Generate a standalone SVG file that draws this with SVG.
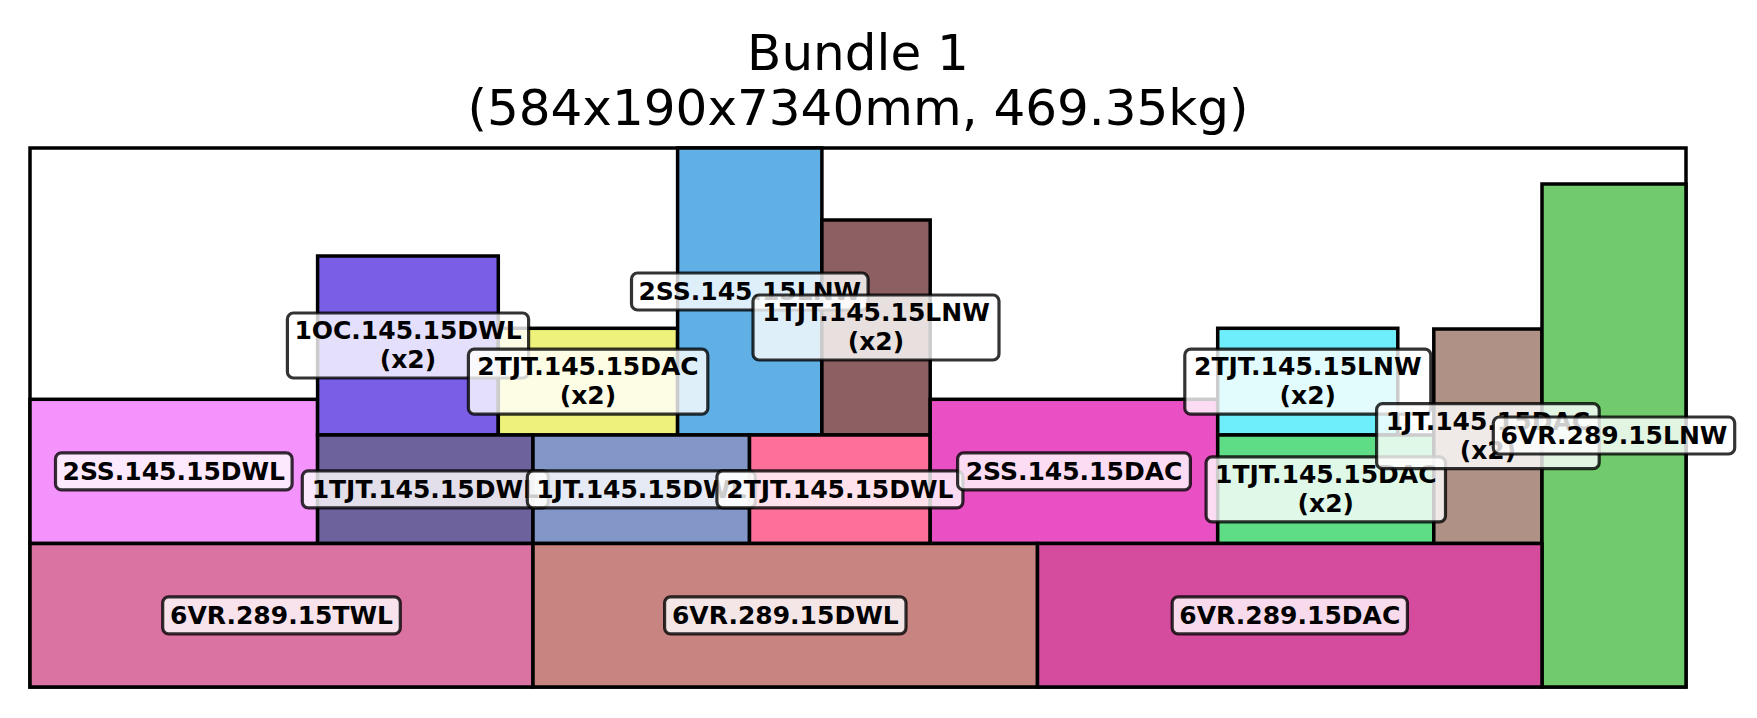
<svg xmlns="http://www.w3.org/2000/svg" width="1757" height="718" viewBox="0 0 1757 718">
<style>
.bg{fill:#ffffff}
.box{stroke:#000;stroke-width:3.5}
.frame{fill:#ffffff;stroke:#000;stroke-width:3.5}
.lb{fill:#ffffff;fill-opacity:0.8;stroke:#000;stroke-opacity:0.8;stroke-width:3.2}
.lt{font-family:"DejaVu Sans","Liberation Sans",sans-serif;font-weight:bold;font-size:25px;fill:#000;text-anchor:middle}
.title{font-family:"DejaVu Sans","Liberation Sans",sans-serif;font-size:50px;fill:#000;text-anchor:middle}
</style>
<rect class="bg" x="0" y="0" width="1757" height="718"/>
<g id="title">
<text class="title" x="858" y="70">Bundle 1</text>
<text class="title" x="858" y="125">(584x190x7340mm, 469.35kg)</text>
</g>
<g id="container"><rect class="frame" x="30" y="148" width="1656" height="539"/></g>
<g id="n-2SS-145-15DWL"><rect class="box" fill="#f393fb" x="30" y="399.3" width="287.6" height="144.2"/></g>
<g id="n-1OC-145-15DWL"><rect class="box" fill="#7a5fe6" x="317.6" y="256" width="180.7" height="179"/></g>
<g id="n-2TJT-145-15DAC"><rect class="box" fill="#eef27a" x="498.3" y="328.3" width="179.3" height="106.7"/></g>
<g id="n-2SS-145-15LNW"><rect class="box" fill="#60b0e6" x="677.6" y="148" width="144.3" height="287"/></g>
<g id="n-1TJT-145-15LNW"><rect class="box" fill="#8c5f62" x="821.9" y="220" width="108.3" height="215"/></g>
<g id="n-1TJT-145-15DWL"><rect class="box" fill="#6e629c" x="317.6" y="435" width="215.4" height="108.5"/></g>
<g id="n-1JT-145-15DWL"><rect class="box" fill="#8396c8" x="533" y="435" width="216.5" height="108.5"/></g>
<g id="n-2TJT-145-15DWL"><rect class="box" fill="#fc709a" x="749.5" y="435" width="180.7" height="108.5"/></g>
<g id="n-2SS-145-15DAC"><rect class="box" fill="#e850c3" x="930.2" y="399.3" width="287.5" height="144.2"/></g>
<g id="n-2TJT-145-15LNW"><rect class="box" fill="#6eeefa" x="1217.7" y="328.3" width="180.1" height="106.7"/></g>
<g id="n-1TJT-145-15DAC"><rect class="box" fill="#5edc86" x="1217.7" y="435" width="216.1" height="108.5"/></g>
<g id="n-1JT-145-15DAC"><rect class="box" fill="#b09186" x="1433.8" y="329" width="108.2" height="214.5"/></g>
<g id="n-6VR-289-15LNW"><rect class="box" fill="#71cb6d" x="1542" y="184" width="144" height="503"/></g>
<g id="n-6VR-289-15TWL"><rect class="box" fill="#da72a2" x="30" y="543.5" width="503" height="143.5"/></g>
<g id="n-6VR-289-15DWL"><rect class="box" fill="#c88481" x="533" y="543.5" width="504.5" height="143.5"/></g>
<g id="n-6VR-289-15DAC"><rect class="box" fill="#d54c9f" x="1037.5" y="543.5" width="504.5" height="143.5"/></g>
<g id="connectors"></g>
<g id="l-2SS-145-15DWL"><rect class="lb" x="55.5" y="452.9" width="236.6" height="37" rx="6"/><text class="lt" x="173.8" y="480.2">2SS.145.15DWL</text></g>
<g id="l-1OC-145-15DWL"><rect class="lb" x="287.4" y="313" width="241.2" height="65" rx="6"/><text class="lt" x="408" y="339.2">1OC.145.15DWL</text><text class="lt" x="408" y="368">(x2)</text></g>
<g id="l-2TJT-145-15DAC"><rect class="lb" x="468.4" y="349.2" width="239.4" height="65" rx="6"/><text class="lt" x="588" y="375.4">2TJT.145.15DAC</text><text class="lt" x="588" y="404.2">(x2)</text></g>
<g id="l-1TJT-145-15DWL"><rect class="lb" x="302.3" y="470.8" width="246" height="37" rx="6"/><text class="lt" x="425.3" y="498.1">1TJT.145.15DWL</text></g>
<g id="l-1JT-145-15DWL"><rect class="lb" x="527.3" y="470.8" width="228" height="37" rx="6"/><text class="lt" x="641.3" y="498.1">1JT.145.15DWL</text></g>
<g id="l-2TJT-145-15DWL"><rect class="lb" x="716.9" y="470.8" width="246" height="37" rx="6"/><text class="lt" x="839.9" y="498.1">2TJT.145.15DWL</text></g>
<g id="l-2SS-145-15DAC"><rect class="lb" x="957.6" y="452.9" width="232.8" height="37" rx="6"/><text class="lt" x="1074" y="480.2">2SS.145.15DAC</text></g>
<g id="l-2SS-145-15LNW"><rect class="lb" x="631.5" y="273" width="236.6" height="37" rx="6"/><text class="lt" x="749.8" y="300.3">2SS.145.15LNW</text></g>
<g id="l-1TJT-145-15LNW"><rect class="lb" x="753" y="295" width="246" height="65" rx="6"/><text class="lt" x="876" y="321.2">1TJT.145.15LNW</text><text class="lt" x="876" y="350">(x2)</text></g>
<g id="l-2TJT-145-15LNW"><rect class="lb" x="1184.8" y="349.2" width="246" height="65" rx="6"/><text class="lt" x="1307.8" y="375.4">2TJT.145.15LNW</text><text class="lt" x="1307.8" y="404.2">(x2)</text></g>
<g id="l-1TJT-145-15DAC"><rect class="lb" x="1206.1" y="456.8" width="239.4" height="65" rx="6"/><text class="lt" x="1325.8" y="483">1TJT.145.15DAC</text><text class="lt" x="1325.8" y="511.8">(x2)</text></g>
<g id="l-1JT-145-15DAC"><rect class="lb" x="1376.6" y="403.7" width="222.6" height="65" rx="6"/><text class="lt" x="1487.9" y="429.9">1JT.145.15DAC</text><text class="lt" x="1487.9" y="458.7">(x2)</text></g>
<g id="l-6VR-289-15LNW"><rect class="lb" x="1493.3" y="417" width="241.4" height="37" rx="6"/><text class="lt" x="1614" y="444.3">6VR.289.15LNW</text></g>
<g id="l-6VR-289-15TWL"><rect class="lb" x="162.7" y="596.8" width="237.6" height="37" rx="6"/><text class="lt" x="281.5" y="624.1">6VR.289.15TWL</text></g>
<g id="l-6VR-289-15DWL"><rect class="lb" x="664.6" y="596.8" width="241.4" height="37" rx="6"/><text class="lt" x="785.3" y="624.1">6VR.289.15DWL</text></g>
<g id="l-6VR-289-15DAC"><rect class="lb" x="1172.2" y="596.8" width="235.2" height="37" rx="6"/><text class="lt" x="1289.8" y="624.1">6VR.289.15DAC</text></g>
</svg>
